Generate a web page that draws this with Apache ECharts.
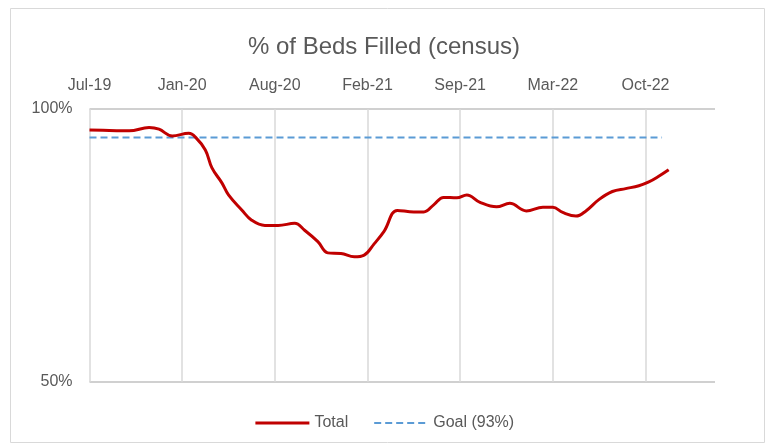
<!DOCTYPE html>
<html>
<head>
<meta charset="utf-8">
<title>% of Beds Filled (census)</title>
<script src="https://cdn.jsdelivr.net/npm/echarts@6/dist/echarts.min.js"></script>
<style>
  html, body { margin: 0; padding: 0; background: #fff; }
  #chart { width: 768px; height: 445px; }
</style>
</head>
<body>
<div id="chart"></div>
<script>
// weeks since mid Jul-19
var weeks = [0, 6, 12, 18, 21, 25, 30, 32, 35, 37,
             40, 42, 46, 49, 53, 57, 62, 65, 69, 72,
             76, 80, 83, 86, 89, 93, 98, 101, 104, 107,
             111, 114, 118, 123, 127, 132, 137, 140, 143, 147,
             150, 154, 158, 162, 166, 169, 172, 175];
var beds = [94.8, 94.7, 94.6, 95.4, 95.0, 93.4, 94.0, 93.1, 90.1, 86.1,
            82.9, 80.4, 77.4, 75.4, 74.4, 74.4, 74.8, 73.5, 71.4, 69.4,
            69.3, 68.7, 69.0, 71.0, 73.3, 77.3, 77.0, 77.0, 78.4, 79.9,
            79.8, 80.4, 78.9, 78.0, 78.7, 77.2, 77.9, 77.9, 76.9, 76.2,
            77.2, 79.5, 81.1, 81.7, 82.3, 83.1, 84.3, 85.7];
var goalWeeks = [0, 173];
var goalValue = 93;
var yTicks = [50, 100];
var monthNames = ['Jan','Feb','Mar','Apr','May','Jun','Jul','Aug','Sep','Oct','Nov','Dec'];

function weekLabel(w) {
    var d = new Date(2019, 6, 15 + w * 7);
    return monthNames[d.getMonth()] + '-' + String(d.getFullYear()).slice(2);
}

var font = '"Liberation Sans", Arial, sans-serif';
var myChart = echarts.init(document.getElementById('chart'));
var option = {
    animation: false,
    textStyle: { fontFamily: font },
    title: {
        text: '% of Beds Filled (census)',
        left: 'center',
        top: 30,
        textStyle: { fontSize: 24, fontWeight: 'normal', color: '#595959', fontFamily: font }
    },
    graphic: [{
        type: 'rect',
        shape: { x: 10.5, y: 8.5, width: 754, height: 434 },
        style: { fill: 'none', stroke: '#d9d9d9', lineWidth: 1 },
        silent: true
    }],
    legend: {
        bottom: 9,
        left: 'center',
        itemWidth: 54,
        itemHeight: 10,
        itemGap: 25,
        itemStyle: { opacity: 0 },
        textStyle: { fontSize: 16, color: '#595959' },
        data: [
            { name: 'Total', lineStyle: { width: 3 } },
            { name: 'Goal (93%)', lineStyle: { width: 2 } }
        ]
    },
    grid: { left: 89.5, right: 53, top: 109, bottom: 63, containLabel: false },
    xAxis: {
        type: 'value',
        position: 'top',
        min: 0,
        max: 189,
        interval: 28,
        axisLine: { show: false },
        axisTick: { show: false },
        axisLabel: {
            margin: 15,
            fontSize: 16,
            color: '#595959',
            showMaxLabel: false,
            formatter: weekLabel
        },
        splitLine: {
            show: true,
            showMinLine: true,
            showMaxLine: false,
            lineStyle: { color: '#d9d9d9', width: 1.5 }
        }
    },
    yAxis: {
        type: 'log',
        logBase: 2,
        min: 50,
        max: 100,
        axisLine: { show: false },
        axisTick: { show: false, customValues: yTicks },
        axisLabel: {
            margin: 17,
            fontSize: 16,
            color: '#595959',
            customValues: yTicks,
            formatter: '{value}%'
        },
        splitLine: { show: true, lineStyle: { color: '#d0d0d0', width: 2 } }
    },
    series: [{
        name: 'Total',
        type: 'line',
        data: weeks.map(function (w, i) { return [w, beds[i]]; }),
        smooth: 0.4,
        showSymbol: false,
        symbol: 'none',
        lineStyle: { color: '#c00000', width: 3 },
        itemStyle: { color: '#c00000' },
        z: 3
    }, {
        name: 'Goal (93%)',
        type: 'line',
        data: goalWeeks.map(function (w) { return [w, goalValue]; }),
        showSymbol: false,
        symbol: 'none',
        lineStyle: { color: '#5b9bd5', width: 2, type: [7, 4] },
        itemStyle: { color: '#5b9bd5' },
        z: 2
    }]
};
myChart.setOption(option);
</script>
</body>
</html>
